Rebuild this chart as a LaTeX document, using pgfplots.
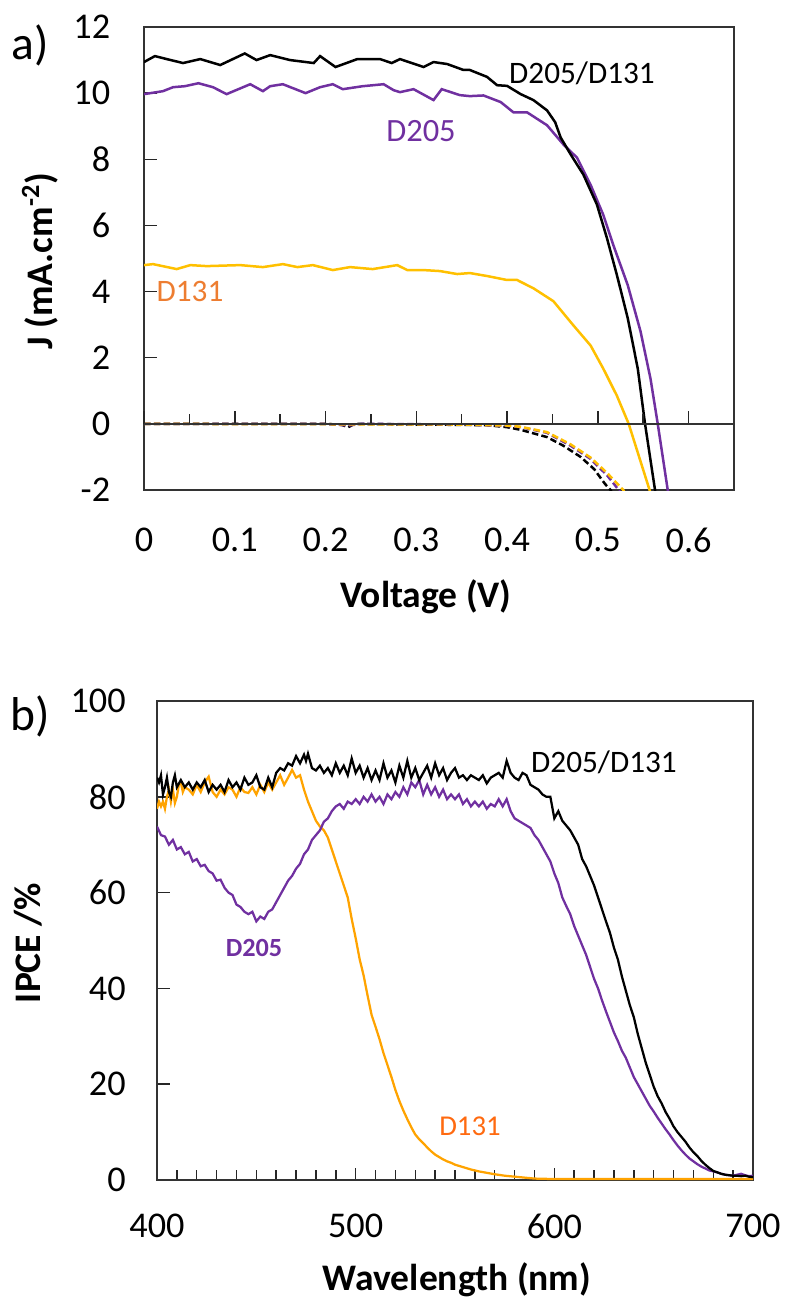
\documentclass[border=0pt]{standalone}
\usepackage{pgfplots}
\pgfplotsset{compat=1.18}
\usepackage{fontspec}
\setmainfont{Carlito}

\definecolor{dpurple}{HTML}{7030A0}
\definecolor{dyellow}{HTML}{FFC000}
\definecolor{dorange}{HTML}{FFA300}
\definecolor{lbla}{HTML}{ED7D31}
\definecolor{lblb}{HTML}{FF6A10}

\pgfplotsset{
  tlab/.style={font=\fontsize{14.5}{17}\selectfont},
  every axis/.append style={
    scale only axis,
    tick label style={tlab},
    axis line style={black!80, line width=0.6pt},
    tick style={black!85, line width=0.6pt},
    major tick length=5pt,
    minor tick length=4pt,
  },
}

% px -> pt (785 x 1297 px reference)
\def\u{0.4pt}

\begin{document}
\begin{tikzpicture}
\useasboundingbox (0,0) rectangle (314pt,-518.8pt);

%% ---------------- a) J-V ----------------
\begin{axis}[
  name=pa,
  at={(57.6pt,-196pt)}, anchor=south west,
  width=236pt, height=185.2pt,
  xmin=0, xmax=0.65, ymin=-2, ymax=12,
  axis lines=box,
  xtick={0,0.1,0.2,0.3,0.4,0.5,0.6},
  xticklabels={0,0.1,0.2,0.3,0.4,0.5,0.6},
  xtick pos=bottom, xtick style={draw=none},
  xticklabel style={yshift=-11.5pt},
  ytick={-2,0,2,4,6,8,10,12},
  yticklabels={-2,0,2,4,6,8,10,12},
  ytick pos=left, ytick align=inside,
  yticklabel style={xshift=-10pt},
]
% dark current (dashed)
\addplot[black, line width=1pt, dash pattern=on 2.6pt off 1.3pt] coordinates {
(0,0) (0.1,0) (0.2,0) (0.218,-0.03) (0.225,-0.1) (0.232,0) (0.3,-0.02) (0.35,-0.03)
(0.378,-0.04) (0.40,-0.1) (0.415,-0.18) (0.444,-0.4) (0.462,-0.66) (0.481,-1.0)
(0.496,-1.37) (0.508,-1.82) (0.514,-2.0) (0.516,-2.1)};
\addplot[dpurple, line width=1pt, dash pattern=on 2.6pt off 1.3pt] coordinates {
(0,0) (0.2,0) (0.225,-0.05) (0.24,0) (0.35,-0.02) (0.40,-0.06) (0.415,-0.1)
(0.444,-0.27) (0.470,-0.66) (0.492,-1.06) (0.510,-1.55) (0.523,-2) (0.525,-2.1)};
\addplot[dyellow, line width=1pt, dash pattern=on 2.6pt off 1.3pt] coordinates {
(0,0) (0.35,-0.02) (0.40,-0.05) (0.415,-0.09) (0.444,-0.25) (0.470,-0.62)
(0.492,-1.02) (0.510,-1.48) (0.528,-2) (0.530,-2.1)};
% illuminated (solid)
\addplot[dyellow, line width=1pt] coordinates {
(0,4.8) (0.01,4.83) (0.036,4.68) (0.051,4.8) (0.069,4.77) (0.106,4.8) (0.131,4.74)
(0.153,4.83) (0.169,4.74) (0.186,4.8) (0.208,4.65) (0.227,4.74) (0.252,4.68)
(0.279,4.8) (0.290,4.65) (0.308,4.65) (0.326,4.62) (0.345,4.53) (0.359,4.56)
(0.378,4.47) (0.400,4.35) (0.411,4.35) (0.429,4.1) (0.451,3.71) (0.473,2.98)
(0.492,2.37) (0.506,1.67) (0.521,0.85) (0.534,0) (0.557,-2) (0.560,-2.3)};
\addplot[dpurple, line width=1pt] coordinates {
(0,9.97) (0.021,10.06) (0.032,10.18) (0.045,10.21) (0.060,10.3) (0.076,10.18)
(0.091,9.97) (0.117,10.27) (0.131,10.06) (0.139,10.21) (0.153,10.27) (0.178,10.0)
(0.194,10.18) (0.208,10.27) (0.219,10.12) (0.241,10.21) (0.264,10.27) (0.275,10.09)
(0.282,10.03) (0.297,10.12) (0.319,9.79) (0.328,10.12) (0.348,9.94) (0.359,9.91)
(0.374,9.93) (0.393,9.73) (0.407,9.42) (0.422,9.42) (0.444,9.03) (0.462,8.45)
(0.477,8.05) (0.492,7.23) (0.506,6.32) (0.517,5.41) (0.533,4.19) (0.547,2.8)
(0.558,1.37) (0.566,0) (0.577,-2) (0.579,-2.4)};
\addplot[black, line width=1pt] coordinates {
(0,10.94) (0.012,11.12) (0.025,11.03) (0.043,10.91) (0.062,11.03) (0.084,10.85)
(0.111,11.2) (0.124,11.0) (0.139,11.15) (0.161,11.0) (0.187,10.91) (0.194,11.12)
(0.211,10.79) (0.235,11.03) (0.260,11.03) (0.273,10.91) (0.282,11.03) (0.308,10.79)
(0.319,10.94) (0.334,10.88) (0.352,10.7) (0.359,10.7) (0.378,10.49) (0.389,10.24)
(0.400,10.22) (0.415,9.97) (0.429,9.79) (0.444,9.48) (0.453,9.12) (0.459,8.66)
(0.470,8.15) (0.484,7.54) (0.499,6.63) (0.510,5.62) (0.521,4.5) (0.533,3.19)
(0.544,1.67) (0.552,0) (0.563,-2) (0.565,-2.3)};
\end{axis}
% zero line with its ticks
\begin{axis}[
  at={(57.6pt,-196pt)}, anchor=south west,
  width=236pt, height=185.2pt,
  xmin=0, xmax=0.65, ymin=-2, ymax=12,
  axis x line=middle, axis y line=none,
  every inner x axis line/.append style={-},
  xtick={0,0.1,0.2,0.3,0.4,0.5,0.6}, minor x tick num=1,
  xticklabels={}, xtick align=inside,
]
\end{axis}

%% ---------------- b) IPCE ----------------
\begin{axis}[
  at={(62.8pt,-472pt)}, anchor=south west,
  width=238.4pt, height=191.6pt,
  xmin=400, xmax=700, ymin=0, ymax=100,
  axis lines=box,
  xtick={400,500,600,700}, xticklabels={400,500,600,700},
  minor x tick num=9,
  xtick pos=bottom, xtick align=inside,
  xticklabel style={yshift=-10pt},
  ytick={0,20,40,60,80,100}, yticklabels={0,20,40,60,80,100},
  ytick pos=left, ytick align=inside,
  yticklabel style={xshift=-9pt},
]
\addplot[dorange, line width=0.9pt] coordinates {
(400,77.5) (401,79) (402,78) (403,79) (404,77.5) (405,80) (406,81.5) (407,79)
(408,81.5) (409,78.7) (410,80) (411,82.5) (412,83) (413,81) (414,82) (416,81.5)
(418,80.5) (420,82.5) (422,81) (424,83) (426,84.2) (428,81) (430,80) (432,81.5)
(434,80.5) (436,82) (438,81.5) (440,80) (442,82) (444,81) (446,80.8) (448,82)
(450,80.5) (452,82.5) (454,81) (456,83) (458,81.5) (460,83) (462,84.5) (464,82.5)
(466,84) (468,85.6) (470,84) (472,84.5) (474,81.5) (476,79) (478,77) (480,75)
(482,73.8) (484,73) (486,71.5) (488,69) (490,66.5) (492,64) (494,61.5) (496,59)
(498,54.5) (500,50.5) (502,46.1) (504,42.7) (506,38.5) (508,34.5) (510,32)
(512,29.4) (514,26.5) (516,24) (518,21.5) (520,18.8) (522,16.5) (524,14.5)
(526,12.7) (528,11) (530,9.5) (532,8.5) (534,7.7) (536,6.8) (538,6) (540,5.3)
(542,4.8) (544,4.3) (546,3.9) (548,3.6) (550,3.2) (554,2.7) (558,2.2) (562,1.8)
(566,1.5) (570,1.2) (575,0.9) (580,0.7) (585,0.5) (590,0.3) (600,0.2) (620,0.2)
(640,0.2) (660,0.2) (680,0.2) (700,0.2)};
\addplot[dpurple, line width=0.9pt] coordinates {
(400,73.8) (402,72) (404,71.7) (406,70) (408,71) (410,69) (412,69.5) (414,68)
(416,68.5) (418,66.5) (420,67) (422,65.5) (424,65.8) (426,64.5) (428,64) (430,62.5)
(432,62.7) (434,61) (436,60) (438,59.5) (440,57.5) (442,57) (444,56) (446,55.5)
(448,56) (450,54) (452,55) (454,54.5) (456,56) (458,56.5) (460,58) (462,59.5)
(464,61) (466,62.5) (468,63.5) (470,65) (472,66) (474,68) (476,69) (478,71)
(480,72) (482,73) (484,74.8) (486,75.5) (488,77) (490,78) (492,78.5) (494,77.5)
(496,79) (498,78.5) (500,79.5) (502,78.5) (504,80) (506,79) (508,80.5) (510,79)
(512,80) (514,78.5) (516,80.5) (518,79.5) (520,81) (522,80) (524,82) (526,80.5)
(528,83) (530,82) (532,83.5) (534,80.5) (536,82.5) (538,80.5) (540,82) (542,80)
(544,81.5) (546,79.5) (548,80.5) (550,79.5) (552,80.5) (554,78.5) (556,79.5)
(558,78) (560,79) (562,78) (564,79) (566,77.5) (568,78.5) (570,78) (572,79.5)
(574,78) (576,79.5) (578,77) (580,75.5) (582,75) (584,74.5) (586,74) (588,73.5)
(590,72) (592,71) (594,69.5) (596,68) (598,66.5) (600,64) (602,62) (604,59)
(606,57.2) (608,55.5) (610,53) (612,51) (614,49) (616,47) (618,44.5) (620,42)
(622,40) (624,37.5) (626,35.2) (628,33) (630,30.8) (632,29) (634,27) (636,25.5)
(638,23.5) (640,21.5) (642,20) (644,18.5) (646,17) (648,15.5) (650,14.3) (652,13)
(654,11.8) (656,10.6) (658,9.5) (660,8.3) (662,7.2) (664,6.2) (666,5.3) (668,4.5)
(670,3.9) (672,3.3) (674,2.8) (676,2.4) (678,2) (680,1.8) (682,1.6) (684,1.3)
(686,1.1) (688,1.0) (690,0.9) (692,1.1) (694,1.3) (696,1.0) (698,0.8) (700,0.9)};
\addplot[black, line width=0.9pt] coordinates {
(400,84) (401,83) (402,84.5) (403,80.5) (404,82) (405,84) (406,81) (407,80)
(408,83) (409,84.5) (410,82) (412,83.5) (414,82) (416,83) (418,81.5) (420,83)
(422,82) (424,83.5) (426,81) (428,82.5) (430,81.5) (432,82.5) (434,81) (436,83.5)
(438,82) (440,83) (442,81.5) (444,84) (446,82.5) (448,83) (450,84.5) (452,82)
(454,81.5) (456,84) (458,82) (460,85) (462,86) (464,85.5) (466,87) (468,86.5)
(470,88.5) (472,87) (474,88.8) (475,87.5) (476,89) (478,86) (480,85.5) (482,86.5)
(484,85) (486,86) (488,84.5) (490,87) (492,85) (494,86.5) (496,84.5) (498,88)
(500,85) (502,86.5) (504,84) (506,86) (508,83.5) (510,85.5) (512,83.5) (514,87)
(516,84) (518,85.5) (520,83) (522,86.5) (524,84) (526,87.5) (528,84) (530,86)
(532,83.5) (534,85) (536,86.5) (538,84) (540,87) (542,84.5) (544,86) (546,83.5)
(548,85) (550,86) (552,84) (554,84.5) (556,83.5) (558,84.5) (560,84) (562,83.5)
(564,84.5) (566,82.8) (568,84) (570,84.5) (572,85) (574,84) (576,87.5) (578,85)
(580,84) (582,83.5) (584,85) (586,84.5) (588,82.5) (590,82) (592,81.5) (594,80.5)
(596,80) (598,80) (600,75.5) (602,77) (604,75) (606,74) (608,73) (610,71.5)
(612,70) (614,67) (616,65.5) (618,63.5) (620,61.5) (622,59) (624,56.5) (626,54)
(628,51.6) (630,48.5) (632,46) (634,42.5) (636,39.5) (638,36.5) (640,34) (642,30.5)
(644,27.5) (646,24.5) (648,22) (650,19.5) (652,17.5) (654,16) (656,14.2) (658,12.8)
(660,11.2) (662,10) (664,9) (666,8) (668,6.8) (670,5.8) (672,5) (674,4) (676,3.2)
(678,2.5) (680,1.9) (682,1.6) (684,1.3) (686,1.1) (688,1.0) (690,0.9) (692,0.9)
(694,0.8) (696,0.9) (698,0.7) (700,0.6)};
\end{axis}

%% ---------------- texts ----------------
\node[font=\fontsize{19}{22}\selectfont] at (30*\u,-45*\u) {a)};
\node[font=\fontsize{19}{22}\selectfont] at (30*\u,-716*\u) {b)};
\node[font=\fontsize{15}{18}\selectfont\bfseries, rotate=90] at (40*\u,-261*\u) {J (mA.cm\textsuperscript{-2})};
\node[font=\fontsize{15}{18}\selectfont\bfseries] at (426*\u,-597*\u) {Voltage (V)};
\node[font=\fontsize{15}{18}\selectfont\bfseries, rotate=90] at (28*\u,-943*\u) {IPCE /\%};
\node[font=\fontsize{15}{18}\selectfont\bfseries] at (457*\u,-1280*\u) {Wavelength (nm)};

\node[font=\fontsize{12.5}{15}\selectfont] at (582*\u,-73*\u) {D205/D131};
\node[font=\fontsize{13}{15}\selectfont, text=dpurple] at (421*\u,-131*\u) {D205};
\node[font=\fontsize{12.5}{15}\selectfont, text=lbla] at (190*\u,-291*\u) {D131};
\node[font=\fontsize{12.5}{15}\selectfont] at (604*\u,-762*\u) {D205/D131};
\node[font=\fontsize{10.5}{13}\selectfont\bfseries, text=dpurple] at (254*\u,-948*\u) {D205};
\node[font=\fontsize{11.5}{14}\selectfont, text=lblb] at (470*\u,-1126*\u) {D131};
\end{tikzpicture}
\end{document}
